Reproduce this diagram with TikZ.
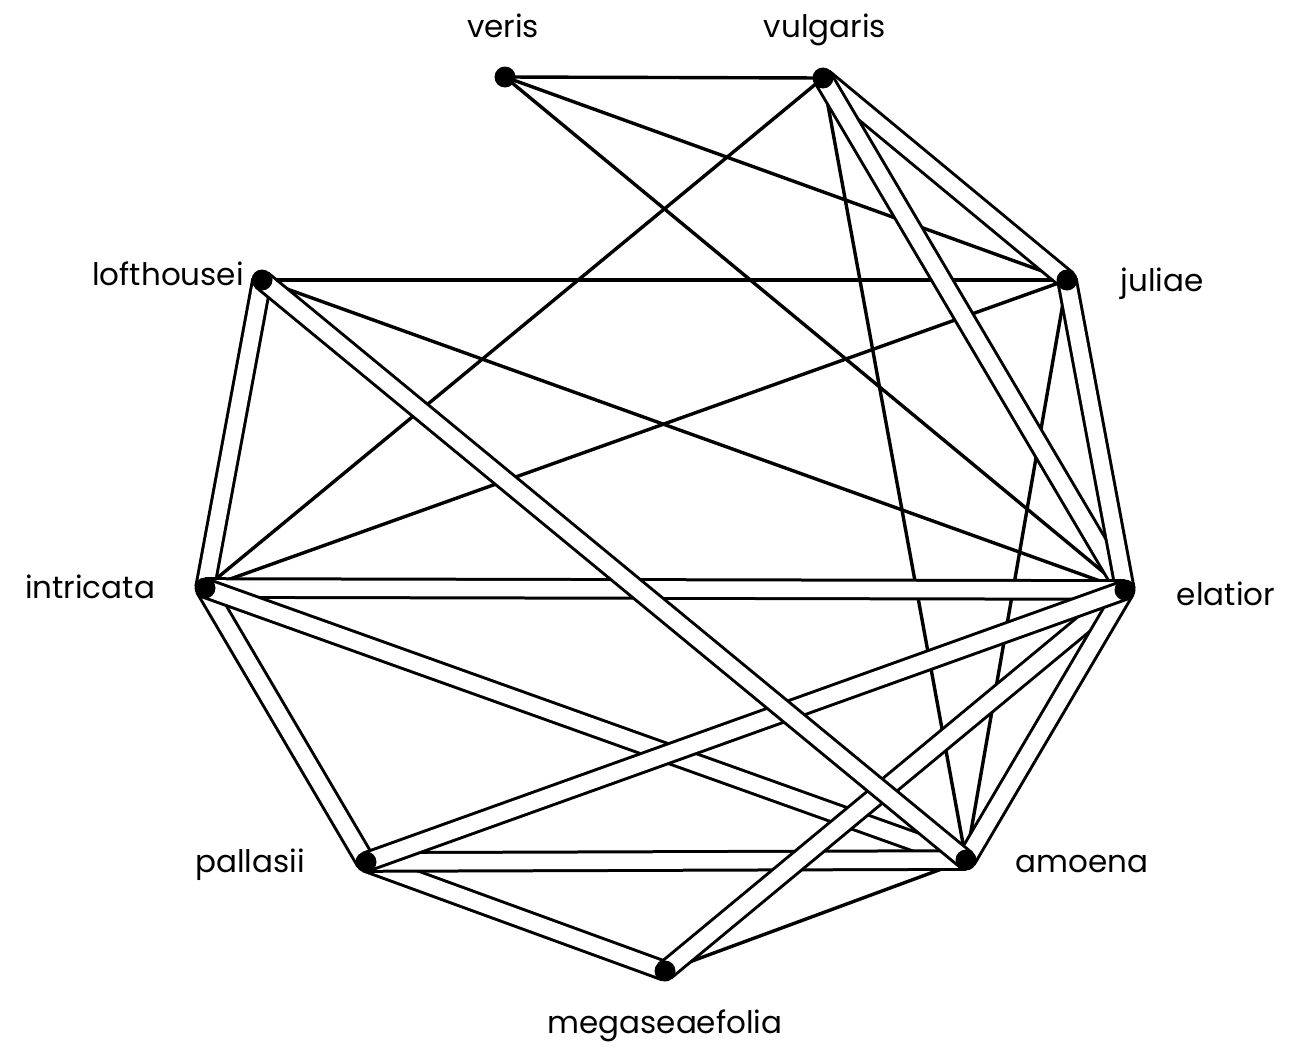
\documentclass[tikz,border=0pt]{standalone}
\usepackage{fontspec}
\setmainfont{Poppins}
\pgfdeclarelayer{edges}
\pgfsetlayers{edges,main}
\tikzset{
  dot/.style={circle,fill=black,inner sep=0pt,minimum size=10.5pt},
  lbl/.style={anchor=base,inner sep=0pt,font=\fontsize{15.5pt}{18pt}\selectfont},
  thin/.style={line width=1.7pt},
  band/.style={line width=1.5pt,double=white,double distance=7.8pt},
}
\begin{document}
\begin{tikzpicture}[x=0.5pt,y=-0.5pt]
\useasboundingbox (0,0) rectangle (1292,1049);
% nodes (dots)
\node[dot] (veris) at (505,77) {};
\node[dot] (vulgaris) at (823,78) {};
\node[dot] (juliae) at (1067,280) {};
\node[dot] (elatior) at (1125,590) {};
\node[dot] (amoena) at (966,860) {};
\node[dot] (mega) at (665,971) {};
\node[dot] (pallasii) at (366,862) {};
\node[dot] (intricata) at (205,588) {};
\node[dot] (loft) at (262,280) {};
% labels
\node[lbl] (lveris) at (503,37) {veris};
\node[lbl] (lvulgaris) at (825,37) {vulgaris};
\node[lbl] (ljuliae) at (1162,291) {juliae};
\node[lbl] (lelatior) at (1226,605) {elatior};
\node[lbl] (lamoena) at (1082,872) {amoena};
\node[lbl] (lmega) at (665,1033) {megaseaefolia};
\node[lbl] (lpallasii) at (250,872) {pallasii};
\node[lbl] (lintricata) at (90,598) {intricata};
\node[lbl] (lloft) at (168,285) {lofthousei};
\begin{pgfonlayer}{edges}
% thin connectors
\draw[thin] (veris.center) -- (vulgaris.center);
\draw[thin] (veris.center) -- (juliae.center);
\draw[thin] (veris.center) -- (elatior.center);
\draw[thin] (vulgaris.center) -- (intricata.center);
\draw[thin] (vulgaris.center) -- (amoena.center);
\draw[thin] (loft.center) -- (juliae.center);
\draw[thin] (loft.center) -- (elatior.center);
\draw[thin] (intricata.center) -- (juliae.center);
\draw[thin] (juliae.center) -- (amoena.center);
\draw[thin] (mega.center) -- (amoena.center);
% bands
\draw[band] (vulgaris.center) -- (juliae.center);
\draw[band] (vulgaris.center) -- (elatior.center);
\draw[band] (juliae.center) -- (elatior.center);
\draw[band] (loft.center) -- (intricata.center);
\draw[band] (intricata.center) -- (pallasii.center);
\draw[band] (intricata.center) -- (elatior.center);
\draw[band] (intricata.center) -- (amoena.center);
\draw[band] (pallasii.center) -- (mega.center);
\draw[band] (pallasii.center) -- (amoena.center);
\draw[band] (mega.center) -- (elatior.center);
\draw[band] (amoena.center) -- (elatior.center);
\draw[band] (pallasii.center) -- (elatior.center);
\draw[band] (loft.center) -- (amoena.center);
\end{pgfonlayer}
\end{tikzpicture}
\end{document}
